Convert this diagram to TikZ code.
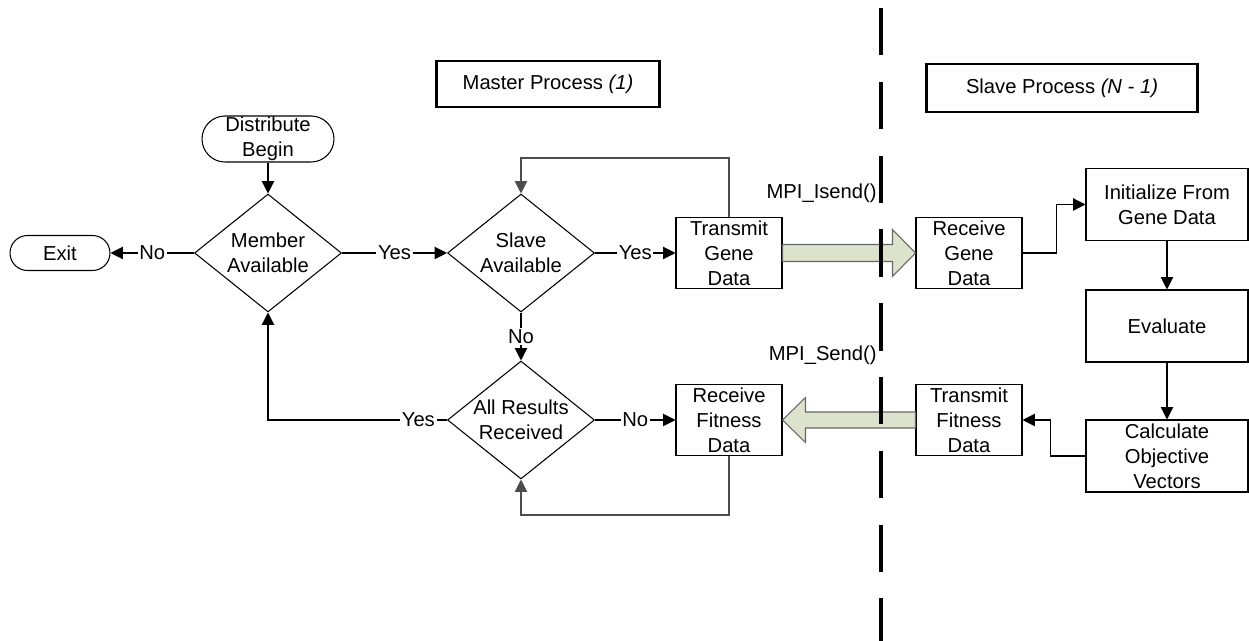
\documentclass[tikz,border=0pt]{standalone}
\usepackage{fontspec}
\setmainfont{Liberation Sans}
\usetikzlibrary{shapes.geometric,arrows.meta,calc}
\definecolor{bigfill}{RGB}{221,226,205}

\begin{document}
\begin{tikzpicture}[x=0.02cm,y=-0.02cm,
  font=\fontsize{11.5pt}{14.2pt}\selectfont,
  conn/.style={line width=0.6pt,-{Triangle[length=7pt,width=7pt]}},
  loopline/.style={conn,draw=black!70},
  lbl/.style={fill=white,inner sep=1pt},
  procbox/.style={draw,line width=0.6pt,fill=white,align=center,minimum width=2.12cm,minimum height=1.42cm,inner sep=0pt},
  widebox/.style={procbox,minimum width=3.24cm,minimum height=1.44cm},
  decision/.style={draw,diamond,line width=0.6pt,minimum width=2.94cm,minimum height=2.36cm,inner sep=0pt},
  term/.style={draw,line width=0.6pt,align=center,rounded corners=#1,inner sep=0pt},
  titlebox/.style={draw,line width=1.4pt,minimum height=0.92cm},
  bigarrow/.style={draw=black!60,fill=bigfill,line width=0.6pt}]
\useasboundingbox (0,0) rectangle (1249,641);

%titles
\node[titlebox,minimum width=4.46cm] (master) at (548,84) {Master Process \textit{(1)}};
\node[titlebox,minimum width=5.42cm,minimum height=0.96cm] (slave) at (1062,88) {Slave Process \textit{(N - 1)}};

%master side
\node[term=0.46cm,minimum width=2.64cm,minimum height=0.92cm] (dist) at (268,139) {Distribute\\Begin};
\node[term=0.35cm,minimum width=2cm,minimum height=0.7cm] (exit) at (60,253) {Exit};
\node[decision,label={[align=center]center:Member\\Available}] (member) at (268,253) {};
\node[decision,label={[align=center]center:Slave\\Available}] (slavq) at (521,253) {};
\node[decision,label={[align=center]center:All Results\\Received}] (allres) at (521,420) {};
\node[procbox] (txgene) at (729,253) {Transmit\\Gene\\Data};
\node[procbox] (rxfit) at (729,420) {Receive\\Fitness\\Data};

%slave side
\node[procbox] (rxgene) at (969,253) {Receive\\Gene\\Data};
\node[procbox] (txfit) at (969,420) {Transmit\\Fitness\\Data};
\node[widebox] (init) at (1167,204.5) {Initialize From\\Gene Data};
\node[widebox] (eval) at (1167,326) {Evaluate};
\node[widebox] (objv) at (1167,456) {Calculate\\Objective\\Vectors};

\node[anchor=east,inner sep=0pt] (isend) at (877,193) {MPI\_Isend()};
\node[anchor=east,inner sep=0pt] (send) at (877,355) {MPI\_Send()};

%connectors
\draw[conn] (dist) -- (member);
\draw[conn] (member) -- node[lbl]{No} (exit);
\draw[conn] (member) -- node[lbl]{Yes} (slavq);
\draw[conn] (slavq) -- node[lbl]{Yes} (txgene);
\draw[conn] (slavq) -- node[lbl]{No} (allres);
\draw[conn] (allres) -- node[lbl]{No} (rxfit);
\draw[conn] (allres.west) -| node[lbl,pos=0.08]{Yes} (member.south);
\draw[loopline] (txgene.north) -- ++(0,-59) -| (slavq.north);
\draw[loopline] (rxfit.south) -- ++(0,59) -| (allres.south);
\draw[conn] (rxgene.east) -- ++(34,0) |- (init.west);
\draw[conn] (init) -- (eval);
\draw[conn] (eval) -- (objv);
\draw[conn] (objv.west) -- ++(-35,0) |- (txfit.east);

%message arrows
\draw[bigarrow] ($(txgene.east)+(0,-8.5)$) -- ($(rxgene.west)+(-23,-8.5)$) -- ($(rxgene.west)+(-23,-23.5)$)
  -- (rxgene.west) -- ($(rxgene.west)+(-23,23.5)$) -- ($(rxgene.west)+(-23,8.5)$) -- ($(txgene.east)+(0,8.5)$) -- cycle;
\draw[bigarrow] ($(txfit.west)+(0,-8)$) -- ($(rxfit.east)+(23,-8)$) -- ($(rxfit.east)+(23,-22.5)$)
  -- (rxfit.east) -- ($(rxfit.east)+(23,22.5)$) -- ($(rxfit.east)+(23,8)$) -- ($(txfit.west)+(0,8)$) -- cycle;

%process border
\coordinate (dtop) at (881,8);
\coordinate (dbot) at (881,641);
\draw[line width=1.8pt,dash pattern=on 27pt off 15pt] (dtop) -- (dbot);

\end{tikzpicture}
\end{document}
